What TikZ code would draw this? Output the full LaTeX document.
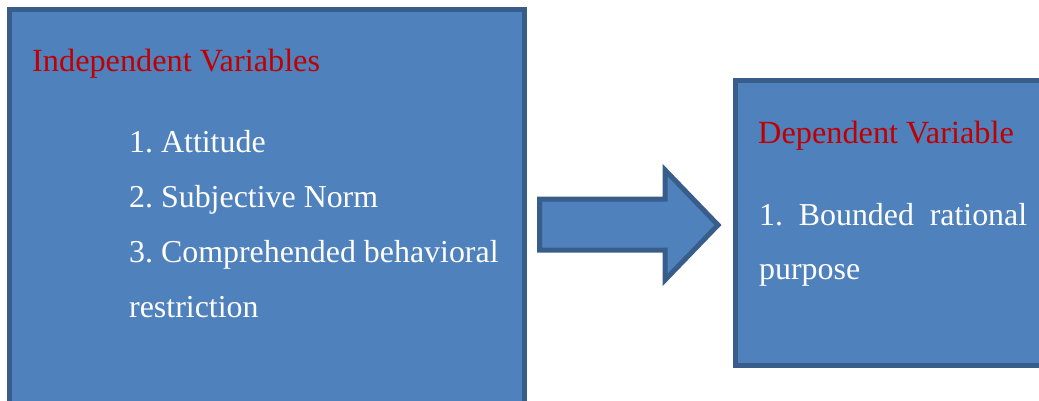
\documentclass[tikz,border=0pt]{standalone}
\usepackage{fontspec}
\setmainfont{Liberation Serif}
\definecolor{boxfill}{HTML}{4F81BD}
\definecolor{boxline}{HTML}{385D8A}
\definecolor{headred}{HTML}{C00000}
\frenchspacing
\begin{document}
\begin{tikzpicture}[x=1pt,y=-1pt,
  panel/.style={draw=boxline,fill=boxfill,line width=5pt},
  headtext/.style={anchor=base west,inner sep=0pt,text=headred,font=\fontsize{32.3}{38}\selectfont},
  itemtext/.style={anchor=base west,inner sep=0pt,text=white,font=\fontsize{31.9}{38}\selectfont}]
\useasboundingbox (0,0) rectangle (1039,400);
\clip (0,0) rectangle (1039,400);
% left box
\draw[panel] (9.5,9) rectangle (524.5,430);
\coordinate (indep) at (524.5,225);
% right box
\draw[panel] (735.5,80.5) rectangle (1060,365.5);
\coordinate (dep) at (735.5,225);
% block arrow
\draw[panel,line join=miter] (539.5,199) -- (665,199) -- (665,170) -- (718,225) -- (665,280) -- (665,250) -- (539.5,250) -- cycle;
% texts
\node[headtext] (h1) at (32,71.5) {Independent Variables};
\node[itemtext] (i1) at (129,152) {1. Attitude};
\node[itemtext] (i2) at (129,207.5) {2. Subjective Norm};
\node[itemtext] (i3) at (129,262.5) {3. Comprehended behavioral};
\node[itemtext] (i4) at (129,317) {restriction};
\node[headtext] (h2) at (758,143) {Dependent Variable};
\node[itemtext] (d1) at (759,225) {\makebox[268pt][s]{1. Bounded rational}};
\node[itemtext] (d2) at (759,279) {purpose};
\end{tikzpicture}
\end{document}
